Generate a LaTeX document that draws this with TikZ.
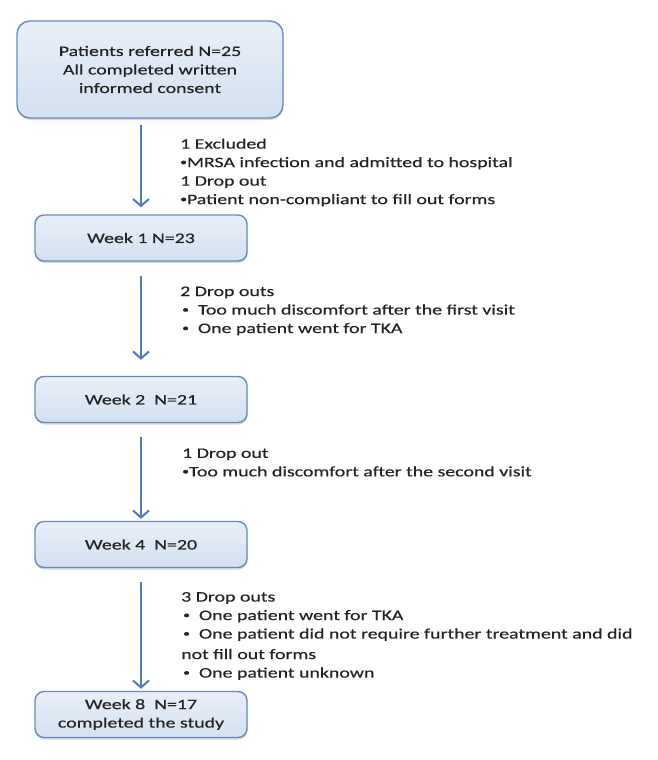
\documentclass[tikz,border=0pt]{standalone}
\usepackage{fontspec}
\setmainfont{Carlito}[FakeStretch=1.37,FakeBold=0.5]
\usetikzlibrary{arrows.meta,shadows}

\definecolor{boxtop}{RGB}{232,239,248}
\definecolor{boxbot}{RGB}{212,225,241}
\definecolor{boxline}{RGB}{104,140,190}
\definecolor{flowblue}{RGB}{76,126,187}
\definecolor{txtgray}{RGB}{35,35,35}

\newcommand{\smallbul}{\raisebox{1.8pt}{\fontsize{10}{10}\selectfont•}}

\tikzset{
    stagebox/.style={draw=boxline, line width=1.4pt, top color=boxtop, bottom color=boxbot,
        rounded corners=9pt, minimum width=212pt, minimum height=46pt, inner sep=2pt,
        align=center, text=txtgray,
        drop shadow={shadow xshift=0.5pt, shadow yshift=-2pt, opacity=.25, fill=black!60}},
    flow/.style={draw=flowblue, line width=2.4pt,
        -{Straight Barb[length=7pt,width=16pt,line width=2pt]}},
    note/.style={anchor=west, align=left, inner sep=0pt, text=txtgray}
}

\begin{document}
\begin{tikzpicture}[x=1pt,y=-1pt,font=\fontsize{14.5}{18.5}\selectfont]
                \useasboundingbox (0,0) rectangle (658,760);

                % boxes
                \node[stagebox, minimum width=266pt, minimum height=97pt, rounded corners=13pt] (referred) at (150,69.5)
                    {Patients referred N=25\\All completed written\\informed consent};
                \node[stagebox] (week1) at (141,238) {Week 1 N=23};
                \node[stagebox] (week2) at (141,399.5) {Week 2~~N=21};
                \node[stagebox] (week4) at (141,544.5) {Week 4~~N=20};
                \node[stagebox] (week8) at (141,714.5) {Week 8~~N=17\\completed the study};

                % arrows
                \draw[flow, shorten <=6pt, shorten >=7pt] (referred.south -| week1.north) -- (week1.north);
                \foreach \a/\b/\s in {week1/week2/16, week2/week4/2, week4/week8/2}
                {
                    \draw[flow, shorten <=14pt, shorten >=\s pt] (\a.south) -- (\b.north);
                }

                % losses
                \node[note] (loss1) at (180,172.5) {1 Excluded\\
                    \smallbul MRSA infection and admitted to hospital\\
                    1 Drop out\\
                    \smallbul Patient non-compliant to fill out forms};
                \node[note] (loss2) at (180,311) {2 Drop outs\\
                    \hspace*{2pt}\smallbul\hspace{9pt}Too much discomfort after the first visit\\
                    \hspace*{2pt}\smallbul\hspace{9pt}One patient went for TKA};
                \node[note] (loss3) at (182,462.5) {1 Drop out\\
                    \smallbul Too much discomfort after the second visit};
                \node[note] (loss4) at (181,636) {3 Drop outs\\
                    \hspace*{2pt}\smallbul\hspace{9pt}One patient went for TKA\\
                    \hspace*{2pt}\smallbul\hspace{9pt}One patient did not require further treatment and did\\[2pt]
                    not fill out forms\\
                    \hspace*{2pt}\smallbul\hspace{9pt}One patient unknown};
\end{tikzpicture}
\end{document}
